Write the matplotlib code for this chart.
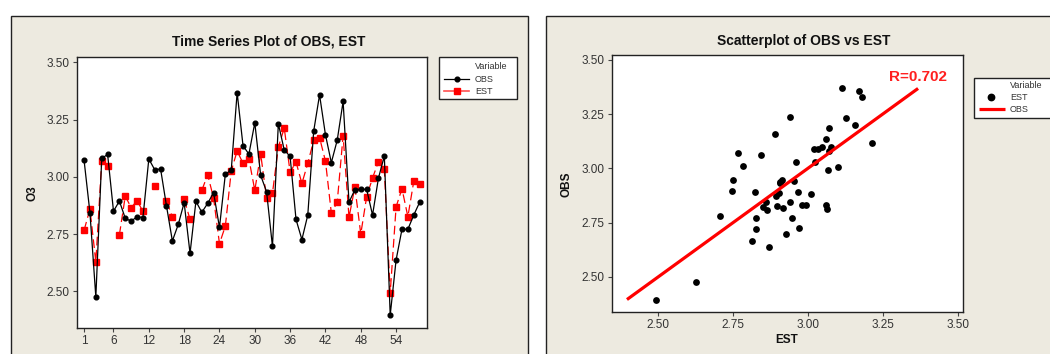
import matplotlib
matplotlib.use('Agg')
import matplotlib.pyplot as plt
from matplotlib.patches import Rectangle
from matplotlib.lines import Line2D
import numpy as np

plt.rcParams['font.family'] = ['Liberation Sans', 'DejaVu Sans']

NA = float('nan')  # missing EST values (not drawn in the reference)

# ---------------- data ----------------
time_index = list(range(1, 59))
obs = [3.073, 2.843, 2.475, 3.080, 3.098, 2.850, 2.894, 2.819, 2.806, 2.826,
       2.822, 3.078, 3.031, 3.034, 2.873, 2.720, 2.792, 2.887, 2.666, 2.893,
       2.845, 2.884, 2.931, 2.779, 3.012, 3.029, 3.368, 3.136, 3.099, 3.236,
       3.006, 2.935, 2.696, 3.232, 3.117, 3.089, 2.814, 2.726, 2.833, 3.199,
       3.358, 3.184, 3.062, 3.160, 3.329, 2.889, 2.944, 2.945, 2.945, 2.833,
       2.994, 3.091, 2.396, 2.637, 2.771, 2.771, 2.833, 2.889]
est = [2.766, 2.859, 2.628, 3.069, 3.047, NA, 2.746, 2.916, 2.865, 2.896,
       2.849, NA, 2.960, NA, 2.893, 2.826, NA, 2.902, 2.814, NA,
       2.941, 3.009, 2.907, 2.708, 2.785, 3.025, 3.113, 3.059, 3.078, 2.941,
       3.100, 2.906, 2.928, 3.129, 3.213, 3.020, 3.065, 2.971, 3.059, 3.159,
       3.171, 3.069, 2.842, 2.889, 3.180, 2.823, 2.955, 2.750, 2.913, 2.995,
       3.066, 3.033, 2.493, 2.869, 2.948, 2.826, 2.980, 2.967]
ts_xticks = [1, 6, 12, 18, 24, 30, 36, 42, 48, 54]
o3_ticks = [2.50, 2.75, 3.00, 3.25, 3.50]
est_ticks = [2.50, 2.75, 3.00, 3.25, 3.50]
r_label = 'R=0.702'

# ---------------- figure ----------------
W, H = 1050, 354
fig = plt.figure(figsize=(10.5, 3.54), dpi=100, facecolor='white')


def fx(x):
    return x / W


def fy(y):
    return 1 - y / H


BG = '#EDEAE0'
TXT = '#333333'

# panels
fig.patches.append(Rectangle((fx(10.5), fy(420)), fx(528) - fx(10.5), fy(15.5) - fy(420),
                             transform=fig.transFigure, facecolor=BG, edgecolor='#222222',
                             lw=1.0, zorder=0))
fig.patches.append(Rectangle((fx(545.8), fy(420)), fx(1120) - fx(545.8), fy(15.5) - fy(420),
                             transform=fig.transFigure, facecolor=BG, edgecolor='#222222',
                             lw=1.0, zorder=0))


def style_axes(ax):
    ax.set_zorder(2)
    for s in ax.spines.values():
        s.set_color('#222222')
        s.set_linewidth(1.0)
    ax.tick_params(direction='out', length=3.2, width=0.8, color='#444444',
                   labelsize=8.5, labelcolor=TXT, pad=2.2)


# ---------------- time series ----------------
ax1 = fig.add_axes([fx(76.7), fy(327.7), (427.3 - 76.7) / W, (327.7 - 57.3) / H])
ax1.set_facecolor('white')
ax1.plot(time_index, est, color='red', ls=(0, (7, 3.5)), lw=0.9, marker='s', ms=3.8,
         mfc='red', mec='red', zorder=2)
ax1.plot(time_index, obs, color='black', lw=0.9, marker='o', ms=3.4,
         mfc='black', mec='black', zorder=3)
ax1.set_xlim(-0.25, 59.3)
ax1.set_ylim(2.341, 3.522)
ax1.set_xticks(ts_xticks)
ax1.set_xticklabels([str(v) for v in ts_xticks])
ax1.set_yticks(o3_ticks)
ax1.set_yticklabels(['%.2f' % v for v in o3_ticks])
style_axes(ax1)

fig.text(fx(269), fy(41.2), 'Time Series Plot of OBS, EST', ha='center', va='center',
         fontsize=10, fontweight='bold', color='#111111')
fig.text(fx(32), fy(193), 'O3', rotation=90, ha='center', va='center',
         fontsize=8.5, fontweight='bold', color='#111111')

# legend (left)
fig.patches.append(Rectangle((fx(439), fy(99.3)), (517 - 439) / W, (99.3 - 57.3) / H,
                             transform=fig.transFigure, facecolor='white',
                             edgecolor='#222222', lw=1.0, zorder=5))
fig.text(fx(475), fy(66.5), 'Variable', fontsize=6.5, va='center', ha='left', color=TXT, zorder=6)
fig.add_artist(Line2D([fx(444), fx(469)], [fy(79), fy(79)], transform=fig.transFigure,
                      color='black', lw=0.9, zorder=6))
fig.add_artist(Line2D([fx(456.5)], [fy(79)], transform=fig.transFigure, marker='o', ms=3.4,
                      color='black', lw=0, zorder=7))
fig.text(fx(475), fy(79), 'OBS', fontsize=6.5, va='center', ha='left', color=TXT, zorder=6)
fig.add_artist(Line2D([fx(444), fx(469)], [fy(91), fy(91)], transform=fig.transFigure,
                      color='#FF5050', lw=1.2, zorder=6))
fig.add_artist(Line2D([fx(456.5)], [fy(91)], transform=fig.transFigure, marker='s', ms=3.8,
                      color='red', lw=0, zorder=7))
fig.text(fx(475), fy(91), 'EST', fontsize=6.5, va='center', ha='left', color=TXT, zorder=6)

# ---------------- scatter ----------------
ax2 = fig.add_axes([fx(611.7), fy(311.7), (962.7 - 611.7) / W, (311.7 - 55) / H])
ax2.set_facecolor('white')
ax2.scatter(est, obs, s=24, color='black', zorder=2, linewidths=0)
obs_sorted = np.sort(np.array(obs))
ax2.plot(obs_sorted, obs_sorted, color='red', lw=2.3, zorder=3, solid_capstyle='butt')
ax2.set_xlim(2.345, 3.517)
ax2.set_ylim(2.340, 3.522)
ax2.set_xticks(est_ticks)
ax2.set_xticklabels(['%.2f' % v for v in est_ticks])
ax2.set_yticks(o3_ticks)
ax2.set_yticklabels(['%.2f' % v for v in o3_ticks])
style_axes(ax2)
ax2.text(3.272, 3.42, r_label, color='#FF2020', fontsize=11, fontweight='bold',
         ha='left', va='center')

fig.text(fx(804), fy(41.2), 'Scatterplot of OBS vs EST', ha='center', va='center',
         fontsize=10, fontweight='bold', color='#111111')
fig.text(fx(567), fy(184), 'OBS', rotation=90, ha='center', va='center',
         fontsize=8.5, fontweight='bold', color='#111111')
fig.text(fx(787), fy(340), 'EST', ha='center', va='center',
         fontsize=8.5, fontweight='bold', color='#111111')

# legend (right)
fig.patches.append(Rectangle((fx(973.5), fy(117.5)), (1060 - 973.5) / W, (117.5 - 77.5) / H,
                             transform=fig.transFigure, facecolor='white',
                             edgecolor='#222222', lw=1.0, zorder=5))
fig.text(fx(1010), fy(85.5), 'Variable', fontsize=6.5, va='center', ha='left', color=TXT, zorder=6)
fig.add_artist(Line2D([fx(991.3)], [fy(97)], transform=fig.transFigure, marker='o', ms=4.6,
                      color='black', lw=0, zorder=7))
fig.text(fx(1010), fy(97), 'EST', fontsize=6.5, va='center', ha='left', color=TXT, zorder=6)
fig.add_artist(Line2D([fx(978.5), fx(1005)], [fy(109), fy(109)], transform=fig.transFigure,
                      color='red', lw=2.3, zorder=6, solid_capstyle='butt'))
fig.text(fx(1010), fy(109), 'OBS', fontsize=6.5, va='center', ha='left', color=TXT, zorder=6)

fig.savefig('out.png', dpi=100, facecolor='white')
